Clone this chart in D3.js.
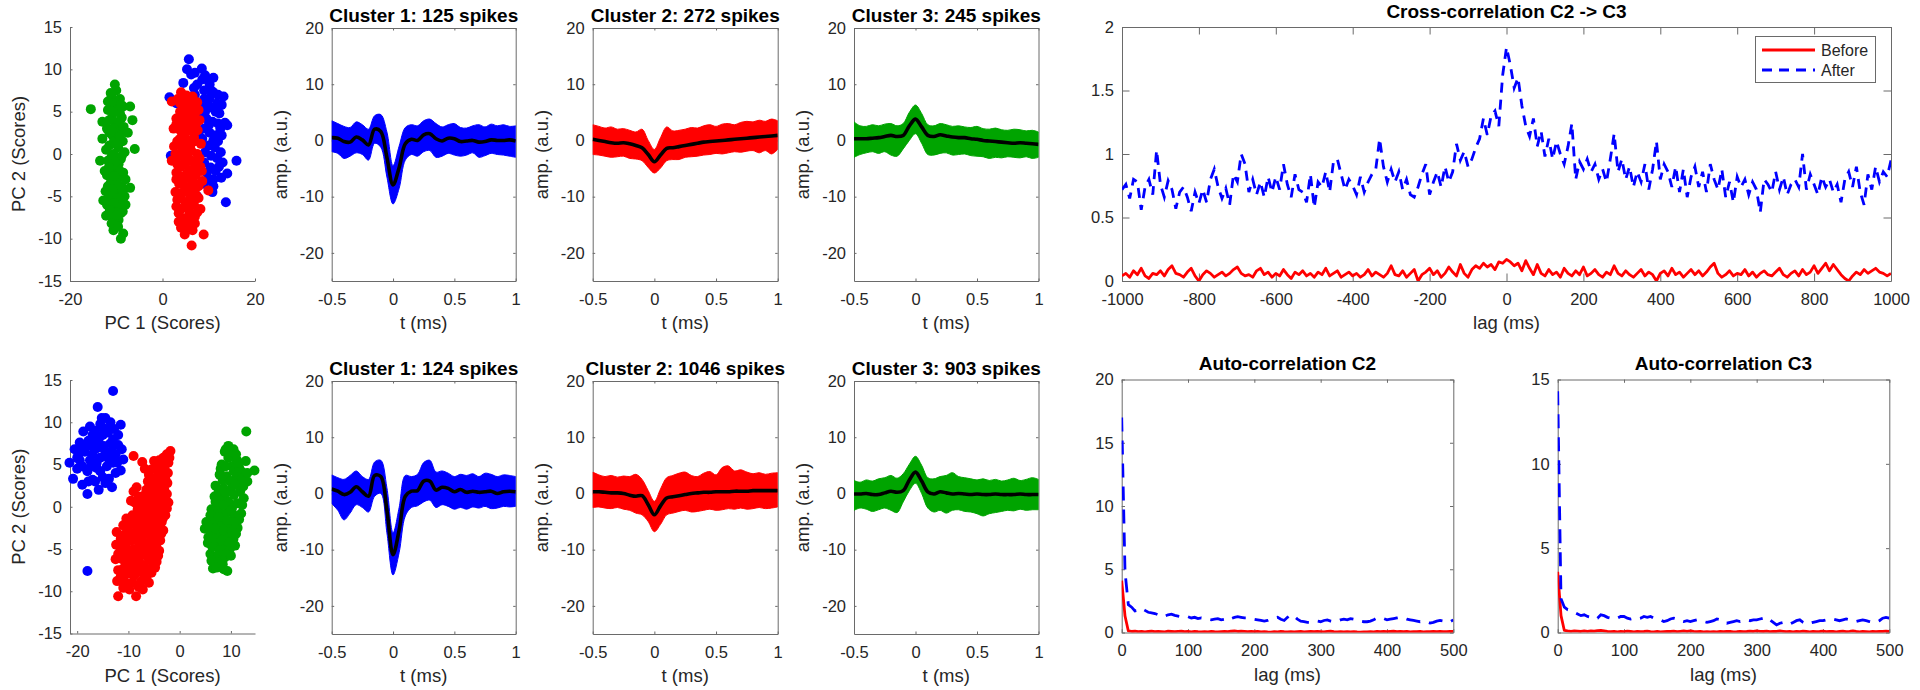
<!DOCTYPE html>
<html><head><meta charset="utf-8">
<script src="https://cdn.jsdelivr.net/npm/d3@7"></script>
<style>body{margin:0;background:#fff}svg{display:block}</style>
</head><body>
<svg id="c" width="1920" height="690"></svg>
<script>
// ---------------- DATA ----------------
// PCA scores, top row (before)
const pcaTopC1 = [[5.7,11.2],[5.3,10.0],[6.2,9.4],[8.5,10.1],[9.2,9.3],[9.6,8.8],[7.5,8.2],[4.5,8.4],[6.8,7.8],[11.0,7.3],[13.2,6.8],[12.0,7.0],[1.5,6.7],[3.0,6.0],[9.0,6.5],[10.3,5.5],[11.5,5.0],[12.3,4.8],[8.2,5.8],[9.5,4.2],[10.8,3.8],[13.5,3.7],[14.0,3.4],[12.5,3.0],[9.0,3.0],[10.2,2.5],[11.6,2.2],[8.6,1.8],[10.0,1.0],[11.3,0.8],[12.0,1.5],[9.2,0.2],[10.5,-0.2],[11.8,-0.5],[16.0,-0.8],[1.8,-0.2],[9.0,-1.0],[10.4,-1.6],[11.5,-2.0],[12.7,-2.8],[14.0,-2.3],[10.0,-3.0],[9.0,-3.5],[11.0,-3.8],[13.7,-5.7],[7.0,7.0],[8.0,4.5],[9.8,6.0],[11.0,9.0],[10.5,7.5],[12.8,5.8],[7.8,2.5],[12.2,-1.5],[10.8,-4.5],[7.5,-5.0],[9.0,7.5],[10.2,6.6],[11.8,6.0],[9.2,5.0],[12.0,3.6],[10.0,3.4],[11.0,1.6],[12.6,0.2],[9.6,-2.2],[11.0,-3.0],[8.6,8.8],[7.0,9.6],[10.2,8.2],[12.8,2.2],[13.0,-1.0]];
const pcaTopC2 = [[4.0,7.3],[5.2,6.9],[6.5,6.8],[2.0,6.2],[3.3,6.5],[7.5,6.1],[4.5,5.8],[6.0,5.5],[3.8,5.0],[5.5,4.6],[7.0,4.8],[8.0,4.0],[4.2,4.0],[6.3,3.5],[3.5,3.0],[5.0,3.2],[7.6,2.8],[4.6,2.2],[6.8,2.0],[3.2,1.5],[5.6,1.4],[8.3,1.2],[2.5,0.9],[4.3,0.6],[6.2,0.4],[7.5,0.0],[3.5,-0.3],[5.0,-0.6],[6.8,-1.0],[2.0,-0.8],[8.2,-1.5],[4.0,-1.5],[5.8,-1.9],[3.0,-2.2],[7.2,-2.5],[4.8,-2.8],[6.2,-3.0],[8.6,-3.2],[3.6,-3.5],[5.4,-3.9],[7.0,-4.0],[9.9,-4.3],[4.2,-4.6],[6.0,-4.9],[7.8,-5.2],[3.2,-5.4],[5.0,-5.7],[6.8,-6.0],[4.0,-6.5],[5.8,-6.8],[7.5,-6.9],[3.5,-7.0],[4.8,-7.6],[6.4,-7.8],[4.0,-8.7],[5.8,-8.8],[7.0,-8.2],[8.9,-9.5],[6.3,-10.8],[5.0,-4.2],[6.5,-2.0],[4.5,1.0],[5.5,5.5],[3.0,4.2],[7.8,-3.8],[8.5,-2.0],[2.8,-4.5],[6.6,6.0],[4.8,-9.5],[7.2,3.5],[4.8,6.4],[5.8,6.2],[3.8,6.0],[6.9,5.6],[5.0,5.0],[6.5,4.2],[4.8,3.8],[3.0,3.5],[5.8,2.8],[4.0,2.7],[7.0,1.5],[5.0,1.8],[3.8,1.8],[6.0,1.0],[2.8,0.0],[5.5,0.0],[4.5,-0.2],[6.2,-0.8],[7.5,-1.2],[3.2,-1.2],[4.8,-1.2],[5.2,-2.4],[3.8,-2.6],[6.8,-3.4],[4.4,-3.6],[3.0,-3.0],[5.8,-4.4],[7.2,-4.8],[4.0,-5.2],[6.2,-5.4],[5.4,-6.2],[3.0,-6.2],[7.0,-7.4],[5.0,-8.2],[6.5,-9.0],[3.5,-8.0],[8.2,-6.5],[8.0,-0.5],[7.8,5.2],[2.4,3.0]];
const pcaTopC3 = [[-10.3,8.2],[-10.0,7.5],[-11.0,6.8],[-9.2,6.5],[-10.5,6.0],[-8.5,5.6],[-15.5,5.3],[-11.8,5.2],[-7.0,5.6],[-9.8,5.0],[-6.5,4.0],[-11.0,4.2],[-8.8,4.3],[-10.2,3.5],[-12.0,3.0],[-9.0,2.8],[-10.8,2.2],[-13.0,1.8],[-8.6,1.5],[-11.5,1.0],[-9.6,0.8],[-6.0,0.6],[-10.6,0.0],[-8.8,-0.2],[-13.5,-0.8],[-11.8,-0.8],[-9.5,-1.2],[-10.8,-1.8],[-8.5,-2.2],[-12.0,-2.5],[-9.8,-2.8],[-11.2,-3.4],[-8.9,-3.8],[-7.0,-4.0],[-12.3,-4.4],[-10.0,-4.5],[-8.2,-5.0],[-11.0,-5.3],[-9.4,-5.8],[-12.0,-6.0],[-10.3,-6.5],[-8.6,-6.8],[-12.2,-7.3],[-10.8,-7.5],[-9.5,-7.8],[-8.5,-9.4],[-9.0,-10.0],[-11.5,2.5],[-10.0,-3.3],[-9.2,4.8],[-10.6,-9.0],[-11.8,6.2],[-12.5,-2.0],[-9.0,-6.0],[-10.5,1.5],[-11.2,7.2],[-9.8,6.0],[-10.8,5.0],[-9.0,5.8],[-11.5,4.0],[-9.5,3.8],[-10.5,3.0],[-8.4,3.2],[-11.0,2.8],[-9.2,2.0],[-10.0,1.2],[-12.2,0.5],[-8.2,0.2],[-11.0,-0.3],[-9.0,-0.6],[-10.2,-1.0],[-11.6,-1.6],[-9.2,-2.0],[-10.6,-2.6],[-8.0,-3.0],[-11.8,-3.8],[-9.6,-3.9],[-10.8,-4.2],[-8.6,-4.4],[-11.5,-5.0],[-9.8,-5.2],[-10.6,-5.8],[-11.4,-6.6],[-9.0,-7.0],[-10.0,-7.2],[-11.0,-8.2],[-9.6,-8.6],[-12.8,-5.5],[-8.0,-6.0],[-13.0,3.8],[-7.5,2.5]];
// PCA scores, bottom row (after)
const pcaBotC1 = [[-13.0,13.7],[-16.0,11.8],[-14.5,10.5],[-13.5,10.0],[-11.5,9.7],[-15.5,9.8],[-17.5,9.5],[-18.8,8.9],[-16.5,9.0],[-14.0,8.8],[-12.0,8.5],[-19.5,7.6],[-17.8,7.8],[-15.8,8.0],[-13.5,7.5],[-11.3,6.8],[-20.5,6.8],[-18.5,6.5],[-16.5,6.8],[-14.5,6.5],[-12.5,6.2],[-21.5,5.2],[-19.5,5.5],[-17.5,5.5],[-15.5,5.8],[-13.0,5.2],[-11.0,5.6],[-20.0,4.5],[-18.0,4.2],[-16.2,4.6],[-14.2,4.8],[-12.5,4.0],[-11.5,4.3],[-20.8,3.3],[-19.0,2.6],[-17.0,3.2],[-15.0,3.5],[-13.2,2.3],[-15.8,2.0],[-18.0,1.5],[-18.0,-7.6],[-16.8,7.5],[-14.8,7.2],[-17.2,4.8],[-13.8,3.3],[-19.8,6.0],[-15.2,10.5],[-12.8,9.2],[-17.0,8.5],[-15.0,8.5],[-13.0,8.0],[-18.0,7.2],[-16.0,7.0],[-14.0,5.8],[-12.0,7.3],[-19.0,4.8],[-17.0,6.2],[-15.5,4.2],[-16.5,3.0],[-14.5,2.8],[-19.2,7.0],[-13.5,9.2],[-12.2,5.2],[-17.8,3.0],[-20.0,5.8],[-14.8,9.3],[-16.2,5.2],[-13.2,6.6]];
const pcaBotC2 = [[-1.8,6.6],[-2.5,6.2],[-3.2,5.8],[-4.0,5.5],[-2.2,5.2],[-3.5,4.9],[-4.6,4.7],[-9.0,6.0],[-7.3,5.3],[-5.5,4.4],[-2.3,4.0],[-3.3,3.8],[-4.3,3.6],[-5.2,3.2],[-6.2,3.0],[-2.4,2.8],[-3.8,2.5],[-5.0,2.2],[-6.5,2.0],[-7.0,1.2],[-2.5,1.5],[-3.5,1.0],[-4.5,0.8],[-5.8,0.9],[-8.0,1.2],[-9.5,0.7],[-3.0,0.0],[-4.2,-0.3],[-5.5,-0.2],[-6.8,-0.5],[-8.2,-0.3],[-9.2,-1.0],[-2.8,-1.0],[-3.5,-1.8],[-4.8,-1.6],[-6.0,-1.8],[-7.5,-1.5],[-8.8,-2.0],[-10.4,-1.4],[-3.2,-2.8],[-4.5,-3.0],[-5.8,-2.8],[-7.0,-3.2],[-8.5,-3.0],[-10.0,-2.8],[-12.3,-3.0],[-11.5,-3.8],[-3.8,-4.0],[-5.2,-4.0],[-6.5,-4.3],[-8.0,-4.2],[-9.5,-4.0],[-4.0,-5.2],[-5.5,-5.0],[-7.0,-5.3],[-8.5,-5.5],[-10.0,-5.2],[-11.5,-5.0],[-12.5,-6.2],[-4.5,-6.5],[-6.0,-6.3],[-7.5,-6.8],[-9.0,-6.5],[-10.5,-6.7],[-12.0,-7.5],[-5.5,-7.8],[-7.0,-8.0],[-8.5,-7.8],[-10.0,-7.8],[-11.5,-8.3],[-6.5,-8.5],[-9.2,-9.0],[-10.5,-9.0],[-8.0,-9.5],[-12.0,-10.6],[-8.5,-10.6],[-4.0,2.0],[-5.0,-1.0],[-6.5,-2.5],[-7.5,-7.3],[-3.0,4.6],[-6.0,1.5],[-11.0,-2.2],[-12.4,-4.5],[-2.0,5.8],[-2.8,5.0],[-3.8,4.2],[-2.8,3.3],[-4.0,3.0],[-4.8,2.6],[-5.8,2.5],[-3.0,2.0],[-4.5,1.5],[-5.5,1.6],[-6.8,1.4],[-3.2,1.4],[-4.0,0.4],[-5.0,0.3],[-6.2,0.2],[-7.5,0.3],[-8.8,0.5],[-3.6,-0.8],[-4.8,-0.6],[-6.2,-1.0],[-7.6,-0.8],[-8.6,-1.2],[-9.8,-2.0],[-3.9,-2.3],[-5.2,-2.2],[-7.0,-2.2],[-8.0,-2.6],[-9.2,-3.3],[-10.8,-3.3],[-4.2,-3.4],[-5.6,-3.5],[-7.4,-3.8],[-8.8,-3.6],[-10.4,-4.3],[-11.8,-4.4],[-4.6,-4.6],[-6.0,-4.8],[-7.8,-4.8],[-9.0,-5.0],[-10.8,-5.8],[-12.0,-5.6],[-5.0,-5.8],[-6.5,-5.8],[-8.0,-6.0],[-9.6,-6.0],[-11.2,-6.2],[-5.2,-7.0],[-6.8,-7.2],[-8.2,-7.0],[-9.8,-7.2],[-11.0,-7.3],[-6.0,-7.6],[-9.0,-8.2],[-10.8,-8.2],[-7.5,-8.8],[-9.8,-9.8],[-11.0,-9.6],[-12.2,-8.8],[-7.2,-9.8],[-6.0,-9.0],[-2.2,0.5],[-2.5,-0.2],[-3.3,-1.4],[-3.6,-3.2],[-4.2,-5.8],[-4.8,-7.2],[-6.0,3.8],[-6.8,4.5],[-5.0,5.4],[-8.4,2.3],[-9.0,1.8]];
const pcaBotC3 = [[13.0,8.9],[9.5,7.2],[10.5,6.8],[8.8,6.5],[12.9,5.4],[14.6,4.3],[9.5,5.8],[11.2,5.5],[8.2,5.0],[10.2,4.8],[12.0,4.2],[7.8,3.8],[9.2,3.6],[11.0,3.4],[13.2,3.0],[7.0,2.5],[8.5,2.2],[10.0,2.0],[11.8,1.8],[6.8,1.2],[8.0,0.9],[9.5,0.6],[11.2,0.4],[12.5,1.0],[6.2,-0.3],[7.6,-0.5],[9.0,-0.8],[10.6,-1.0],[12.0,-0.8],[5.2,-1.8],[6.8,-1.8],[8.3,-2.0],[9.8,-2.2],[11.3,-2.5],[4.9,-2.6],[6.2,-3.2],[7.6,-3.3],[9.0,-3.5],[10.5,-3.8],[5.5,-4.3],[7.0,-4.6],[8.4,-4.8],[9.8,-5.0],[6.0,-5.6],[7.6,-5.8],[8.8,-6.0],[6.5,-7.3],[9.3,-7.6],[11.5,2.8],[10.2,-0.2],[7.2,0.2],[8.0,4.5],[9.8,6.2],[10.8,5.8],[9.0,4.8],[10.6,4.2],[11.6,4.6],[8.4,3.2],[9.8,3.0],[10.8,2.6],[12.4,2.4],[7.6,1.8],[9.0,1.6],[10.6,1.4],[12.2,0.2],[7.0,0.6],[8.6,0.2],[10.0,-0.4],[11.6,-1.5],[6.0,-1.0],[7.6,-1.2],[9.2,-1.6],[10.8,-1.8],[5.8,-2.5],[7.0,-2.6],[8.6,-2.8],[10.2,-3.0],[11.0,-3.2],[5.6,-3.6],[6.8,-3.8],[8.2,-4.0],[9.6,-4.2],[10.8,-4.6],[6.4,-4.8],[7.8,-5.2],[9.2,-5.6],[6.2,-6.4],[7.4,-6.6],[8.4,-6.8],[10.0,-5.8],[7.2,-7.2],[8.6,-7.4],[11.4,5.2],[12.2,3.4],[13.2,4.0],[9.0,6.8],[11.0,6.2]];

// waveform time samples (ms)
const waveT = [-0.5,-0.45,-0.4,-0.35,-0.3,-0.25,-0.2,-0.15,-0.1,-0.05,0,0.05,0.1,0.15,0.2,0.25,0.3,0.35,0.4,0.45,0.5,0.55,0.6,0.65,0.7,0.75,0.8,0.85,0.9,0.95,1];
// top row waveforms: mean, upper and lower envelope of traces
const wTopC1Mean = [0.5,0.4,-0.2,-0.3,0.6,0.1,-0.8,2.0,1.6,-3.0,-7.9,-4.8,-0.6,0.2,0.0,1.0,1.2,0.3,-0.1,0.4,0.3,-0.2,-0.1,0.0,-0.3,-0.2,0.1,0.0,0.0,0.1,-0.1];
const wTopC1Up   = [3.5,3.0,2.5,2.3,3.3,2.8,2.0,4.4,4.6,1.5,-4.5,-1.0,2.3,2.8,2.6,3.5,3.8,3.0,2.4,2.8,3.0,2.3,2.2,2.6,2.8,2.4,2.9,2.6,2.8,2.5,2.6];
const wTopC1Lo   = [-2.0,-2.3,-3.2,-2.8,-2.2,-2.5,-3.5,-0.5,-1.2,-6.5,-11.3,-8.5,-3.5,-2.5,-2.8,-2.0,-1.8,-3.0,-2.8,-2.3,-2.6,-2.8,-2.6,-2.2,-3.0,-2.7,-2.3,-2.5,-2.6,-2.8,-3.0];
const wTopC2Mean = [0.2,0.0,-0.2,-0.4,-0.5,-0.4,-0.6,-0.9,-1.3,-2.5,-3.8,-2.6,-1.4,-1.3,-1.1,-0.9,-0.7,-0.5,-0.3,-0.2,-0.1,0.0,0.1,0.2,0.3,0.4,0.5,0.6,0.7,0.8,0.9];
const wTopC2Up   = [2.8,2.5,2.2,2.4,2.0,2.1,1.8,1.5,2.0,0.0,-1.6,0.5,2.4,1.7,1.8,2.0,2.3,2.2,2.6,2.8,2.5,2.9,3.0,2.8,3.2,3.4,3.3,3.6,3.4,3.8,3.5];
const wTopC2Lo   = [-2.5,-2.6,-2.8,-3.0,-2.9,-2.8,-3.2,-3.3,-3.6,-4.8,-5.8,-4.9,-3.6,-3.4,-3.4,-3.0,-2.9,-2.8,-2.6,-2.5,-2.3,-2.4,-2.2,-2.0,-2.1,-1.9,-1.8,-2.2,-1.8,-2.4,-1.6];
const wTopC3Mean = [0.3,0.3,0.3,0.4,0.5,0.7,0.9,0.7,0.9,2.6,3.8,2.4,0.9,0.7,1.0,0.8,0.6,0.5,0.5,0.3,0.2,0.0,-0.1,-0.2,-0.3,-0.4,-0.5,-0.4,-0.5,-0.6,-0.7];
const wTopC3Up   = [3.3,2.6,2.5,2.8,2.6,2.9,3.0,2.6,3.0,5.0,6.3,4.8,2.8,2.6,3.0,2.8,2.5,2.6,2.4,2.3,2.5,2.1,2.0,2.2,1.9,1.8,2.0,1.9,1.7,1.8,1.5];
const wTopC3Lo   = [-3.0,-2.5,-2.2,-2.0,-2.3,-2.0,-2.6,-2.8,-1.5,0.0,1.2,-0.5,-2.5,-2.6,-2.3,-2.2,-2.6,-2.5,-2.4,-2.7,-2.8,-2.9,-3.2,-3.0,-3.1,-2.9,-3.0,-3.1,-2.9,-3.2,-3.0];
// bottom row waveforms
const wBotC1Mean = [0.8,0.4,-0.2,0.2,1.2,0.3,-0.5,3.2,3.0,-3.0,-10.9,-6.5,-0.5,0.4,0.5,2.2,2.2,0.6,1.1,0.9,0.3,0.7,0.2,0.4,0.2,0.3,0.4,0.0,0.3,0.4,0.3];
const wBotC1Up   = [3.3,2.8,2.5,3.2,4.0,3.0,2.5,5.6,5.9,1.0,-7.0,-2.5,3.2,3.0,3.4,5.5,5.9,3.8,4.0,3.6,3.0,3.4,3.2,3.5,3.0,3.6,3.4,3.0,3.3,3.2,3.0];
const wBotC1Lo   = [-1.8,-3.0,-4.7,-3.5,-2.0,-2.5,-3.3,-0.5,0.0,-7.0,-14.5,-10.5,-4.0,-2.5,-2.2,-1.5,-1.2,-2.5,-2.0,-2.3,-2.8,-2.5,-2.8,-2.4,-2.6,-2.3,-2.7,-2.6,-2.3,-2.4,-2.3];
const wBotC2Mean = [0.3,0.3,0.2,0.1,0.1,0.0,-0.3,-0.5,-0.4,-2.0,-3.8,-2.2,-0.8,-0.6,-0.4,-0.2,0.0,0.1,0.2,0.2,0.3,0.3,0.3,0.4,0.4,0.4,0.5,0.5,0.5,0.5,0.5];
const wBotC2Up   = [3.8,3.3,3.0,3.2,2.9,3.1,3.0,3.4,2.5,0.5,-1.4,0.8,2.8,3.2,3.6,3.8,3.2,3.0,3.6,3.9,3.3,4.6,4.9,4.0,4.2,3.8,3.5,3.7,3.4,3.6,3.7];
const wBotC2Lo   = [-2.5,-2.4,-2.6,-2.7,-2.5,-2.8,-3.0,-3.5,-3.8,-5.0,-6.8,-5.5,-3.8,-3.5,-3.2,-3.0,-3.3,-3.2,-3.0,-2.8,-3.0,-2.9,-2.7,-2.8,-2.6,-2.8,-2.7,-2.5,-2.7,-2.6,-2.4];
const wBotC3Mean = [-0.1,-0.1,0.0,-0.2,-0.2,0.1,0.4,0.2,0.5,2.4,3.8,2.2,0.3,-0.1,0.3,0.1,-0.1,0.0,-0.1,-0.2,-0.1,-0.2,-0.2,-0.1,-0.2,-0.2,-0.2,-0.1,-0.2,-0.2,-0.2];
const wBotC3Up   = [2.3,2.0,2.4,2.2,2.6,2.8,3.2,2.7,3.5,5.2,6.6,5.0,2.8,2.6,3.0,3.2,3.7,3.0,2.8,2.6,2.4,2.6,2.3,2.5,2.2,2.4,2.7,2.3,2.5,2.8,2.5];
const wBotC3Lo   = [-3.0,-2.6,-2.8,-3.2,-2.9,-2.6,-3.0,-3.4,-1.5,0.5,1.8,0.0,-2.6,-3.3,-3.0,-3.5,-3.0,-2.9,-3.2,-3.3,-3.6,-4.0,-3.6,-3.4,-3.2,-3.0,-3.1,-2.8,-3.0,-2.9,-2.9];

// cross-correlation C2 -> C3
const xcorrLags = [-1000,-990,-980,-970,-960,-950,-940,-930,-920,-910,-900,-890,-880,-870,-860,-850,-840,-830,-820,-810,-800,-790,-780,-770,-760,-750,-740,-730,-720,-710,-700,-690,-680,-670,-660,-650,-640,-630,-620,-610,-600,-590,-580,-570,-560,-550,-540,-530,-520,-510,-500,-490,-480,-470,-460,-450,-440,-430,-420,-410,-400,-390,-380,-370,-360,-350,-340,-330,-320,-310,-300,-290,-280,-270,-260,-250,-240,-230,-220,-210,-200,-190,-180,-170,-160,-150,-140,-130,-120,-110,-100,-90,-80,-70,-60,-50,-40,-30,-20,-10,0,10,20,30,40,50,60,70,80,90,100,110,120,130,140,150,160,170,180,190,200,210,220,230,240,250,260,270,280,290,300,310,320,330,340,350,360,370,380,390,400,410,420,430,440,450,460,470,480,490,500,510,520,530,540,550,560,570,580,590,600,610,620,630,640,650,660,670,680,690,700,710,720,730,740,750,760,770,780,790,800,810,820,830,840,850,860,870,880,890,900,910,920,930,940,950,960,970,980,990,1000];
const xcorrBefore = [0.04,0.06,0.03,0.08,0.05,0.10,0.04,0.02,0.06,0.05,
0.08,0.04,0.09,0.12,0.06,0.05,0.03,0.07,0.10,0.04,
0.00,0.05,0.08,0.06,0.03,0.05,0.07,0.04,0.06,0.09,
0.11,0.06,0.04,0.05,0.03,0.08,0.10,0.05,0.07,0.03,
0.06,0.04,0.09,0.05,0.02,0.07,0.05,0.08,0.04,0.06,
0.03,0.07,0.05,0.10,0.04,0.06,0.08,0.03,0.05,0.07,
0.04,0.06,0.03,0.05,0.09,0.04,0.07,0.05,0.03,0.06,
0.12,0.05,0.04,0.08,0.03,0.06,0.09,0.00,0.05,0.07,
0.10,0.05,0.08,0.03,0.06,0.11,0.07,0.04,0.13,0.06,
0.03,0.09,0.12,0.10,0.14,0.11,0.13,0.09,0.15,0.14,
0.17,0.15,0.12,0.14,0.08,0.16,0.10,0.05,0.13,0.06,
0.04,0.09,0.05,0.07,0.03,0.10,0.06,0.04,0.08,0.05,
0.11,0.04,0.06,0.09,0.05,0.03,0.07,0.05,0.12,0.06,
0.04,0.08,0.05,0.03,0.06,0.09,0.04,0.07,0.05,0.00,
0.06,0.08,0.04,0.10,0.05,0.07,0.03,0.06,0.09,0.05,
0.08,0.04,0.07,0.11,0.14,0.06,0.03,0.05,0.08,0.04,
0.06,0.05,0.09,0.04,0.07,0.03,0.06,0.08,0.05,0.04,
0.07,0.10,0.05,0.03,0.06,0.08,0.04,0.09,0.05,0.07,
0.12,0.06,0.10,0.14,0.08,0.13,0.09,0.05,0.02,0.00,
0.04,0.07,0.05,0.09,0.06,0.08,0.10,0.07,0.06,0.04,
0.06];
const xcorrAfter = [0.72,0.76,0.65,0.80,0.78,0.56,0.74,0.80,0.68,1.03,
0.76,0.66,0.79,0.72,0.57,0.70,0.74,0.66,0.55,0.70,
0.61,0.72,0.62,0.80,0.88,0.74,0.65,0.73,0.60,0.84,
0.78,1.00,0.92,0.70,0.80,0.68,0.78,0.66,0.82,0.70,
0.82,0.72,0.92,0.76,0.66,0.84,0.72,0.70,0.62,0.84,
0.58,0.78,0.74,0.86,0.70,0.94,0.96,0.84,0.72,0.80,
0.75,0.68,0.82,0.70,0.78,0.84,0.88,1.12,0.90,0.78,
0.88,0.78,0.86,0.72,0.80,0.68,0.66,0.74,0.84,0.92,
0.68,0.78,0.86,0.74,0.90,0.78,0.86,1.08,0.95,1.02,
0.90,0.96,1.05,1.12,1.28,1.15,1.30,1.34,1.22,1.62,
1.84,1.70,1.52,1.60,1.38,1.22,1.14,1.28,1.06,1.18,
0.98,1.12,0.96,1.10,1.00,0.92,1.06,1.24,0.80,0.94,
0.88,0.96,0.86,0.92,0.80,0.88,0.78,0.96,1.16,0.86,
0.96,0.80,0.90,0.74,0.86,0.78,0.92,0.72,0.88,1.10,
0.80,0.92,0.86,0.74,0.90,0.70,0.88,0.66,0.82,0.90,
0.74,0.86,0.70,0.92,0.80,0.72,0.88,0.66,0.78,0.62,
0.82,0.74,0.80,0.68,0.78,0.72,0.54,0.80,0.76,0.70,
0.86,0.72,0.82,0.68,0.76,0.80,0.74,1.00,0.72,0.84,
0.76,0.68,0.82,0.74,0.80,0.70,0.76,0.62,0.80,0.86,
0.74,0.90,0.70,0.60,0.84,0.72,0.90,0.78,0.86,0.82,
0.95];

// auto-correlations
const acorrLags = [0,5,10,15,20,25,30,35,40,45,50,55,60,65,70,75,80,85,90,95,100,105,110,115,120,125,130,135,140,145,150,155,160,165,170,175,180,185,190,195,200,205,210,215,220,225,230,235,240,245,250,255,260,265,270,275,280,285,290,295,300,305,310,315,320,325,330,335,340,345,350,355,360,365,370,375,380,385,390,395,400,405,410,415,420,425,430,435,440,445,450,455,460,465,470,475,480,485,490,495,500];
const acC2Before = [4.1,1.3,0.12,0.08,0.1,0.06,0.09,0.05,0.08,0.1,
0.06,0.09,0.07,0.05,0.1,0.08,0.06,0.09,0.1,0.07,
0.08,0.05,0.09,0.06,0.04,0.07,0.05,0.08,0.06,0.05,
0.07,0.09,0.06,0.1,0.12,0.08,0.1,0.09,0.07,0.08,
0.06,0.09,0.05,0.07,0.04,0.03,0.06,0.05,0.08,0.06,
0.05,0.07,0.04,0.06,0.08,0.05,0.07,0.09,0.06,0.08,
0.07,0.05,0.09,0.1,0.07,0.05,0.06,0.04,0.07,0.05,
0.06,0.04,0.03,0.05,0.04,0.06,0.05,0.08,0.07,0.09,
0.06,0.08,0.1,0.07,0.09,0.06,0.08,0.05,0.07,0.06,
0.08,0.05,0.07,0.06,0.09,0.06,0.08,0.07,0.06,0.08,
0.09];
const acC2After = [17.0,4.8,2.2,2.0,1.7,1.75,1.9,1.75,1.6,1.55,
1.5,1.4,1.45,1.3,1.4,1.45,1.35,1.3,1.25,1.2,
1.25,1.15,1.2,1.1,1.15,1.1,1.05,1.0,1.05,1.1,
1.0,1.05,0.95,1.1,1.2,1.25,1.2,1.15,1.15,1.1,
1.05,1.0,0.95,0.9,0.95,1.05,1.15,1.2,1.05,0.95,
1.2,1.4,1.3,1.05,0.9,0.85,0.8,0.8,0.85,0.9,
0.85,0.95,1.0,0.9,0.85,0.9,1.0,1.05,1.0,1.1,
1.05,0.95,0.9,0.85,0.85,0.9,1.0,1.15,1.15,1.1,
1.0,1.05,1.1,1.15,1.2,1.15,1.05,1.0,0.95,0.9,
0.85,0.9,0.85,0.75,0.8,0.9,0.95,0.9,0.8,0.85,
1.0];
const acC3Before = [3.6,1.0,0.12,0.09,0.07,0.1,0.08,0.06,0.09,0.07,
0.1,0.08,0.11,0.12,0.09,0.06,0.05,0.07,0.04,0.06,
0.05,0.08,0.06,0.04,0.07,0.05,0.06,0.08,0.05,0.04,
0.06,0.03,0.05,0.07,0.06,0.08,0.05,0.07,0.09,0.06,
0.1,0.07,0.05,0.06,0.04,0.05,0.03,0.05,0.04,0.06,
0.05,0.07,0.06,0.04,0.05,0.07,0.05,0.06,0.08,0.06,
0.1,0.07,0.06,0.08,0.05,0.07,0.06,0.09,0.07,0.05,
0.06,0.04,0.07,0.05,0.08,0.06,0.04,0.07,0.05,0.06,
0.08,0.05,0.07,0.06,0.04,0.06,0.08,0.05,0.07,0.1,
0.06,0.04,0.07,0.05,0.03,0.06,0.05,0.07,0.06,0.08,
0.07];
const acC3After = [14.3,2.0,1.5,1.35,1.3,1.2,1.1,1.0,1.05,0.95,
0.9,0.8,0.85,1.05,1.0,0.9,0.85,0.8,0.85,0.95,
0.95,0.85,0.8,0.85,0.8,0.85,0.95,0.9,0.95,0.85,
0.8,0.75,0.65,0.7,0.8,0.85,0.8,0.7,0.65,0.7,
0.65,0.7,0.75,0.7,0.65,0.6,0.65,0.7,0.8,0.75,
0.6,0.55,0.6,0.65,0.7,0.65,0.7,0.75,0.7,0.75,
0.75,0.8,0.85,0.9,0.75,0.6,0.45,0.55,0.6,0.5,
0.5,0.6,0.7,0.75,0.6,0.5,0.55,0.6,0.65,0.7,
0.7,0.75,0.8,0.8,0.75,0.7,0.75,0.8,0.75,0.7,
0.65,0.7,0.75,0.7,0.65,0.6,0.6,0.7,0.85,0.9,
0.85];

// tick values
const pcaYTicks = [-15,-10,-5,0,5,10,15];
const pcaTopXTicks = [-20,0,20];
const pcaBotXTicks = [-20,-10,0,10];
const waveXTicks = [-0.5,0,0.5,1];
const waveYTicks = [-20,-10,0,10,20];
const xcorrXTicks = [-1000,-800,-600,-400,-200,0,200,400,600,800,1000];
const xcorrYTicks = [0,0.5,1,1.5,2];
const acXTicks = [0,100,200,300,400,500];
const acC2YTicks = [0,5,10,15,20];
const acC3YTicks = [0,5,10,15];

const titlesTop = ["Cluster 1: 125 spikes","Cluster 2: 272 spikes","Cluster 3: 245 spikes"];
const titlesBot = ["Cluster 1: 124 spikes","Cluster 2: 1046 spikes","Cluster 3: 903 spikes"];

// ---------------- DRAWING ----------------
const FONT = '"Liberation Sans", Arial, Helvetica, sans-serif';
const AX = "#6a6a6a", TXT = "#262626";
const BLUE = "#0000ff", RED = "#ff0000", GREEN = "#00a400";
const svg = d3.select("#c");
const fmt = d => String(d);
let clipId = 0;

function panel(o){
  const x = d3.scaleLinear().domain(o.xd).range([o.x0, o.x1]);
  const y = d3.scaleLinear().domain(o.yd).range([o.y1, o.y0]);
  const g = svg.append("g");
  const tl = o.tickLen;
  const style = s => {
    s.attr("font-size", 16.5).attr("font-family", FONT);
    s.selectAll("path,line").attr("stroke", AX).attr("stroke-width", 1);
    s.selectAll("text").attr("fill", TXT);
  };
  g.append("g").attr("transform", `translate(0,${o.y1})`)
    .call(d3.axisBottom(x).tickValues(o.xt).tickFormat(fmt).tickSize(-tl).tickSizeOuter(0).tickPadding(12)).call(style);
  g.append("g").attr("transform", `translate(${o.x0},0)`)
    .call(d3.axisLeft(y).tickValues(o.yt).tickFormat(fmt).tickSize(-tl).tickSizeOuter(0).tickPadding(8)).call(style);
  if (o.box){
    g.append("g").attr("transform", `translate(0,${o.y0})`)
      .call(d3.axisTop(x).tickValues(o.xt).tickFormat("").tickSize(-tl).tickSizeOuter(0)).call(style);
    g.append("g").attr("transform", `translate(${o.x1},0)`)
      .call(d3.axisRight(y).tickValues(o.yt).tickFormat("").tickSize(-tl).tickSizeOuter(0)).call(style);
  }
  const id = "clip" + (clipId++);
  svg.append("clipPath").attr("id", id).append("rect")
    .attr("x", o.x0).attr("y", o.y0).attr("width", o.x1 - o.x0).attr("height", o.y1 - o.y0);
  const data = svg.append("g");
  const clipped = svg.append("g").attr("clip-path", `url(#${id})`);
  if (o.title) {
    svg.append("text").attr("x", (o.x0 + o.x1) / 2).attr("y", o.y0 - o.titleOff)
      .attr("text-anchor", "middle").attr("font-family", FONT).attr("font-weight", "bold")
      .attr("font-size", 19).attr("fill", "#000").text(o.title);
  }
  if (o.xlabel) {
    svg.append("text").attr("x", (o.x0 + o.x1) / 2).attr("y", o.y1 + 48)
      .attr("text-anchor", "middle").attr("font-family", FONT).attr("font-size", 18.5)
      .attr("fill", TXT).text(o.xlabel);
  }
  if (o.ylabel) {
    svg.append("text").attr("transform", `translate(${o.x0 - 45},${(o.y0 + o.y1) / 2}) rotate(-90)`)
      .attr("text-anchor", "middle").attr("font-family", FONT).attr("font-size", 18.5)
      .attr("fill", TXT).text(o.ylabel);
  }
  return {x, y, data, clipped};
}

// Scatter panels
function scatterPanel(y0, y1, xd, xt, clusters){
  const p = panel({x0:70, x1:255, y0, y1, xd, yd:[-15,15], xt, yt:pcaYTicks, box:false, tickLen:2.5,
    xlabel:"PC 1 (Scores)", ylabel:"PC 2 (Scores)"});
  clusters.forEach(([pts, col]) => {
    p.data.append("g").selectAll("circle").data(pts).join("circle")
      .attr("cx", d => p.x(d[0])).attr("cy", d => p.y(d[1])).attr("r", 5).attr("fill", col);
  });
}
scatterPanel(27, 281, [-20,20], pcaTopXTicks, [[pcaTopC1, BLUE],[pcaTopC2, RED],[pcaTopC3, GREEN]]);
scatterPanel(380, 633.5, [-21.4,14.7], pcaBotXTicks, [[pcaBotC1, BLUE],[pcaBotC2, RED],[pcaBotC3, GREEN]]);

// Waveform panels
const waveX = [[331.7,515.7],[592.7,777.7],[854,1038.5]];
function wavePanel(i, y0, y1, title, mean, up, lo, col){
  const p = panel({x0:waveX[i][0], x1:waveX[i][1], y0, y1, xd:[-0.5,1], yd:[-25,20], xt:waveXTicks, yt:waveYTicks,
    box:true, tickLen:2.5, title, titleOff:6.5, xlabel:"t (ms)", ylabel:"amp. (a.u.)"});
  const area = d3.area().x((d,k) => p.x(waveT[k])).y0((d,k) => p.y(lo[k])).y1((d,k) => p.y(up[k])).curve(d3.curveCatmullRom);
  p.clipped.append("path").datum(mean).attr("d", area).attr("fill", col).attr("stroke", col).attr("stroke-width", 1);
  const line = arr => d3.line().x((d,k) => p.x(waveT[k])).y(d => p.y(d)).curve(d3.curveCatmullRom)(arr);
  p.clipped.append("path").attr("d", line(mean)).attr("fill", "none").attr("stroke", "#000").attr("stroke-width", 3.6)
    .attr("stroke-linejoin", "round");
}
const wTop = [[wTopC1Mean,wTopC1Up,wTopC1Lo,BLUE],[wTopC2Mean,wTopC2Up,wTopC2Lo,RED],[wTopC3Mean,wTopC3Up,wTopC3Lo,GREEN]];
const wBot = [[wBotC1Mean,wBotC1Up,wBotC1Lo,BLUE],[wBotC2Mean,wBotC2Up,wBotC2Lo,RED],[wBotC3Mean,wBotC3Up,wBotC3Lo,GREEN]];
wTop.forEach((w,i) => wavePanel(i, 28, 281, titlesTop[i], ...w));
wBot.forEach((w,i) => wavePanel(i, 381, 634, titlesBot[i], ...w));

// correlogram panels
function corrPanel(o, lags, before, after, dash){
  const p = panel(Object.assign({box:true, titleOff:9.5, xlabel:"lag (ms)"}, o));
  const line = d3.line().x((d,k) => p.x(lags[k])).y(d => p.y(d));
  p.clipped.append("path").attr("d", line(before)).attr("fill", "none").attr("stroke", RED)
    .attr("stroke-width", 2.8).attr("stroke-linejoin", "round");
  p.clipped.append("path").attr("d", line(after)).attr("fill", "none").attr("stroke", BLUE)
    .attr("stroke-width", 2.8).attr("stroke-dasharray", dash);
  return p;
}
corrPanel({x0:1122, x1:1891, y0:27, y1:281, xd:[-1000,1000], yd:[0,2], xt:xcorrXTicks, yt:xcorrYTicks,
  tickLen:7.5, title:"Cross-correlation C2 -> C3"}, xcorrLags, xcorrBefore, xcorrAfter, "10,7");
corrPanel({x0:1121.7, x1:1453.3, y0:379.5, y1:632.5, xd:[0,500], yd:[0,20], xt:acXTicks, yt:acC2YTicks,
  tickLen:3.3, title:"Auto-correlation C2"}, acorrLags, acC2Before, acC2After, "14,9");
corrPanel({x0:1557.7, x1:1889.3, y0:379.5, y1:632.5, xd:[0,500], yd:[0,15], xt:acXTicks, yt:acC3YTicks,
  tickLen:3.3, title:"Auto-correlation C3"}, acorrLags, acC3Before, acC3After, "14,9");

// legend
const lg = svg.append("g");
lg.append("rect").attr("x", 1755.5).attr("y", 36.5).attr("width", 120).attr("height", 46)
  .attr("fill", "#fff").attr("stroke", AX).attr("stroke-width", 1);
const legendItems = [["Before", RED, null], ["After", BLUE, "10,7"]];
legendItems.forEach((it, i) => {
  const yy = 50 + i * 20;
  lg.append("line").attr("x1", 1762).attr("x2", 1815).attr("y1", yy).attr("y2", yy)
    .attr("stroke", it[1]).attr("stroke-width", 2.8).attr("stroke-dasharray", it[2]);
  lg.append("text").attr("x", 1821).attr("y", yy + 5.5).attr("font-family", FONT).attr("font-size", 16)
    .attr("fill", TXT).text(it[0]);
});
</script>
</body></html>
